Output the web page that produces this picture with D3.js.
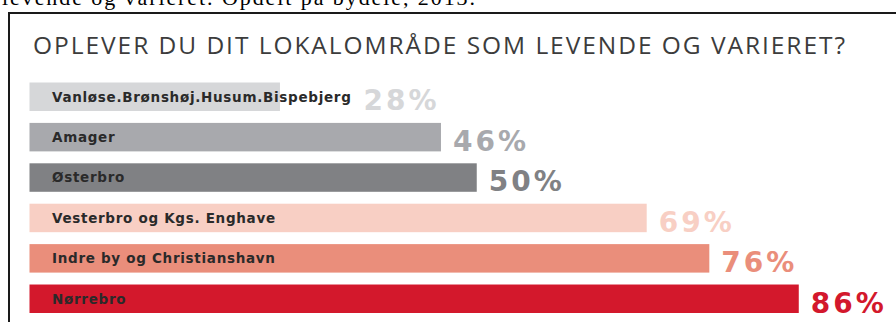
<!DOCTYPE html>
<html>
<head>
<meta charset="utf-8">
<script src="https://cdn.jsdelivr.net/npm/d3@7"></script>
<style>
  html, body { margin: 0; padding: 0; background: #fff; }
  svg { display: block; }
</style>
</head>
<body>
<svg id="chart" width="896" height="322"></svg>
<script>
// Andel der oplever lokalområdet som levende og varieret, pr. bydel (2013)
const districts = [
  "Vanløse.Brønshøj.Husum.Bispebjerg",
  "Amager",
  "Østerbro",
  "Vesterbro og Kgs. Enghave",
  "Indre by og Christianshavn",
  "Nørrebro"
];
const shares = [28, 46, 50, 69, 76, 86];
const barColors = ["#d6d7d9", "#a8a9ad", "#808184", "#f8cfc4", "#ea8e7b", "#d3182c"];

const captionText = "levende og varieret. Opdelt på bydele, 2013.";
const titleText = "OPLEVER DU DIT LOKALOMRÅDE SOM LEVENDE OG VARIERET?";

const svg = d3.select("#chart");

// Caption above the framed graphic (partly clipped by the top edge)
svg.append("text")
  .attr("x", 2)
  .attr("y", 5)
  .attr("font-family", "'Liberation Serif', 'Times New Roman', serif")
  .attr("font-size", 22)
  .attr("fill", "#000")
  .attr("textLength", 473)
  .attr("lengthAdjust", "spacing")
  .text(captionText);

// Frame around the graphic
svg.append("path")
  .attr("d", "M9,330 L9,13 L900,13")
  .attr("fill", "none")
  .attr("stroke", "#1a1a1a")
  .attr("stroke-width", 2);

// Title
svg.append("text")
  .attr("x", 33)
  .attr("y", 53.5)
  .attr("font-family", "'Open Sans', sans-serif")
  .attr("font-size", 24.5)
  .attr("fill", "#3c3c3c")
  .attr("textLength", 812)
  .attr("lengthAdjust", "spacing")
  .text(titleText);

const x = d3.scaleLinear().domain([0, 100]).range([29.5, 924]);
const y = d3.scaleBand().domain(districts).range([82.5, 313]).paddingInner(0.295).paddingOuter(0);

const rows = svg.append("g").selectAll("g")
  .data(districts.map((d, i) => ({ name: d, value: shares[i], color: barColors[i] })))
  .join("g");

rows.append("rect")
  .attr("x", x(0))
  .attr("y", d => y(d.name))
  .attr("width", d => x(d.value) - x(0))
  .attr("height", y.bandwidth())
  .attr("fill", d => d.color);

const names = rows.append("text")
  .attr("x", 52)
  .attr("y", d => y(d.name) + y.bandwidth() / 2 + 4.8)
  .attr("font-family", "'DejaVu Sans', sans-serif")
  .attr("font-weight", "bold")
  .attr("font-size", 13.5)
  .attr("letter-spacing", 0.7)
  .attr("fill", "#2a2a2a")
  .text(d => d.name);

// Value labels sit after the bar, or after the name when the name overruns the bar
names.each(function (d) {
  const nameEnd = 52 + this.getComputedTextLength();
  d.labelX = Math.max(x(d.value), nameEnd) + 12;
});

rows.append("text")
  .attr("x", d => d.labelX)
  .attr("y", d => y(d.name) + y.bandwidth() - 0.5)
  .attr("font-family", "'DejaVu Sans', sans-serif")
  .attr("font-weight", "bold")
  .attr("font-size", 28)
  .attr("letter-spacing", 3)
  .attr("fill", d => d.color)
  .text(d => d.value + "%");
</script>
</body>
</html>
